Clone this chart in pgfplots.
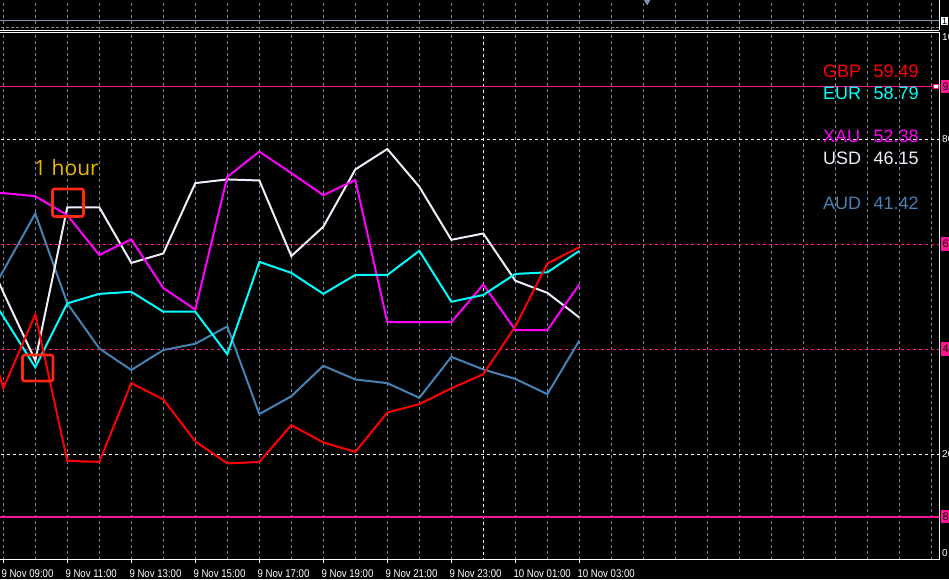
\documentclass[border=0pt]{standalone}
\usepackage{pgfplots}
\pgfplotsset{compat=1.18}
\usepackage{fontspec}
\setmainfont{Liberation Sans}
\newfontfamily\tickfont[FakeStretch=0.86]{Liberation Sans}
\newfontfamily\hourfont{Open Sans}
\definecolor{gbp}{RGB}{255,0,0}
\definecolor{eur}{RGB}{0,255,255}
\definecolor{xau}{RGB}{255,0,255}
\definecolor{usd}{RGB}{238,238,250}
\definecolor{aud}{RGB}{70,130,180}
\definecolor{dpink}{RGB}{255,20,147}
\definecolor{gridgray}{RGB}{119,136,153}
\definecolor{boxred}{RGB}{255,40,20}
\definecolor{hourcol}{RGB}{240,185,0}
\definecolor{stripblue}{RGB}{130,148,168}

\pgfplotstableread{
h v
-1 53.9
0 32.5
1 46.6
2 18.7
3 18.5
4 33.5
5 30.4
6 22.4
7 18.2
8 18.5
9 25.5
10 22.2
11 20.4
12 27.9
13 29.5
14 32.5
15 35.2
16 44.3
17 56.3
18 59.4
}\gbpdata
\pgfplotstableread{
h v
-1 55.6
0 46.2
1 36.5
2 48.7
3 50.5
4 50.9
5 47.1
6 47.1
7 39.0
8 56.6
9 54.5
10 50.5
11 54.1
12 54.1
13 58.7
14 49.0
15 50.3
16 54.3
17 54.6
18 58.7
}\eurdata
\pgfplotstableread{
h v
-1 70.0
0 69.7
1 69.1
2 65.5
3 57.9
4 60.9
5 51.6
6 47.5
7 72.8
8 77.6
9 73.5
10 69.3
11 72.2
12 45.1
13 45.1
14 45.1
15 52.3
16 43.6
17 43.6
18 52.3
}\xaudata
\pgfplotstableread{
h v
-1 64.6
0 50.8
1 37.8
2 67.0
3 67.0
4 56.4
5 58.2
6 71.6
7 72.3
8 72.1
9 57.7
10 63.3
11 74.2
12 78.1
13 70.9
14 60.8
15 62.0
16 53.0
17 50.7
18 46.0
}\usddata
\pgfplotstableread{
h v
-1 44.0
0 54.9
1 65.8
2 48.7
3 40.1
4 36.0
5 39.8
6 41.0
7 44.3
8 27.6
9 31.0
10 36.8
11 34.2
12 33.5
13 30.7
14 38.5
15 36.1
16 34.3
17 31.4
18 41.6
}\auddata

\begin{document}
\begin{tikzpicture}[x=1pt,y=1pt]
\useasboundingbox (0,0) rectangle (949,579);
\fill[black] (0,0) rectangle (949,579);
\clip (0,0) rectangle (949,579);

% indicator strip on top
\begin{axis}[
  at={(0pt,548.7pt)}, anchor=south west, scale only axis,
  width=939.3pt, height=40pt,
  xmin=-0.1031, xmax=29.248, ymin=-0.4286, ymax=5.2857,
  axis line style={draw=none},
  xtick={0,1,...,29}, xticklabels={}, major tick length=0pt,
  xmajorgrids, major grid style={gridgray, line width=0.9pt, dash pattern=on 3pt off 3pt},
  ytick=\empty, clip mode=individual,
]
\addplot[stripblue, line width=1.2pt] coordinates {(-1,1) (30,1)};
\addplot[gridgray, line width=1pt, dash pattern=on 3pt off 2pt] coordinates {(-1,0) (30,0)};
\addplot[only marks, mark=triangle*, mark size=4pt, mark options={rotate=180, fill=stripblue, draw=stripblue}] coordinates {(20.12,3.75)};
\end{axis}

% main chart
\begin{axis}[
  at={(0pt,19.3pt)}, anchor=south west, scale only axis,
  width=939.3pt, height=527.4pt,
  xmin=-0.1031, xmax=29.248, ymin=-0.133, ymax=100.324,
  axis line style={draw=none},
  xtick={0,2,...,18},
  xticklabels={9 Nov 09:00, 9 Nov 11:00, 9 Nov 13:00, 9 Nov 15:00, 9 Nov 17:00, 9 Nov 19:00, 9 Nov 21:00, 9 Nov 23:00, 10 Nov 01:00, 10 Nov 03:00},
  xticklabel style={font=\tickfont\fontsize{11.2}{12}\selectfont, text=white, anchor=west, inner sep=0pt, xshift=-2pt, yshift=-10.3pt},
  minor xtick={1,3,5,7,9,11,13,17,19,20,21,22,23,24,25,26,27,28,29},
  xtick pos=bottom, tick align=outside,
  major tick length=3.3pt, minor tick length=0pt,
  tick style={white, line width=1pt},
  xmajorgrids, xminorgrids,
  major grid style={gridgray, line width=0.9pt, dash pattern=on 3pt off 3pt},
  minor grid style={gridgray, line width=0.9pt, dash pattern=on 3pt off 3pt},
  ytick=\empty,
  clip mode=individual,
]
% level lines
\addplot[white, line width=0.9pt, dash pattern=on 3pt off 3pt] coordinates {(-1,80) (30,80)};
\addplot[white, line width=0.9pt, dash pattern=on 3pt off 3pt] coordinates {(-1,20) (30,20)};
\addplot[white, line width=0.9pt, dash pattern=on 3pt off 3pt] coordinates {(15,-5) (15,105)};
\addplot[dpink, line width=0.9pt, dash pattern=on 3pt off 3pt] coordinates {(-1,60) (30,60)};
\addplot[dpink, line width=0.9pt, dash pattern=on 3pt off 3pt] coordinates {(-1,40) (30,40)};
\addplot[dpink, line width=1.6pt] coordinates {(-1,90) (30,90)};
\addplot[dpink, line width=1.6pt] coordinates {(-1,8) (30,8)};
% series
\addplot[aud, line width=2pt] table[x=h, y=v] {\auddata};
\addplot[usd, line width=2pt] table[x=h, y=v] {\usddata};
\addplot[xau, line width=2pt] table[x=h, y=v] {\xaudata};
\addplot[eur, line width=2pt] table[x=h, y=v] {\eurdata};
\addplot[gbp, line width=2pt] table[x=h, y=v] {\gbpdata};
% annotations
\draw[boxred, line width=2.6pt, rounded corners=2pt] (axis cs:1.5375,65.24) rectangle (axis cs:2.506,70.48);
\draw[boxred, line width=2.6pt, rounded corners=2pt] (axis cs:0.60,33.9) rectangle (axis cs:1.553,38.86);
\node[anchor=base west, inner sep=0pt, text=hourcol, font=\hourfont\fontsize{21}{24}\selectfont] at (axis cs:0.96,73.14) {1 hour};
\end{axis}

% window borders
\draw[white, line width=1pt] (0,548.7) -- (939.3,548.7);
\draw[white, line width=1pt] (939.3,548.7) -- (939.3,579);
\draw[white, line width=1pt] (0,546.7) -- (939.3,546.7) -- (939.3,19.3) -- (0,19.3);

% right scale labels (cut by the picture edge, as in the reference)
\begin{scope}[every node/.style={inner sep=0pt, anchor=west, font=\fontsize{10}{12}\selectfont}]
\node[text=white] at (942,542) {100};
\node[text=white] at (942,440) {80};
\node[text=white] at (942,125) {20};
\node[text=white] at (942,26) {0};
\end{scope}
\begin{scope}[every node/.style={inner sep=1.5pt, anchor=west, fill=dpink, text=black, minimum height=13.5pt, font=\fontsize{11}{12}\selectfont}]
\node at (941,492.5) {90};
\node at (941,335) {60};
\node at (941,230) {40};
\node at (941,62.5) {8};
\end{scope}
\node[draw=dpink, fill=white, minimum size=4.5pt, inner sep=0pt, line width=1pt] at (936,492.5) {};
\node[fill=white, text=black, anchor=west, inner sep=1pt, font=\fontsize{9}{10}\selectfont] at (941,558) {1};

% legend block
\begin{scope}[every node/.style={inner sep=0pt, anchor=base west, font=\fontsize{18}{20}\selectfont}]
\node[text=gbp] at (823,501.7) {GBP};  \node[text=gbp] at (873.5,501.7) {59.49};
\node[text=eur] at (823,479) {EUR};    \node[text=eur] at (873.5,479) {58.79};
\node[text=xau] at (823,436.3) {XAU};  \node[text=xau] at (873.5,436.3) {52.38};
\node[text=usd] at (823,414) {USD};    \node[text=usd] at (873.5,414) {46.15};
\node[text=aud] at (823,369.7) {AUD};  \node[text=aud] at (873.5,369.7) {41.42};
\end{scope}
\end{tikzpicture}
\end{document}
